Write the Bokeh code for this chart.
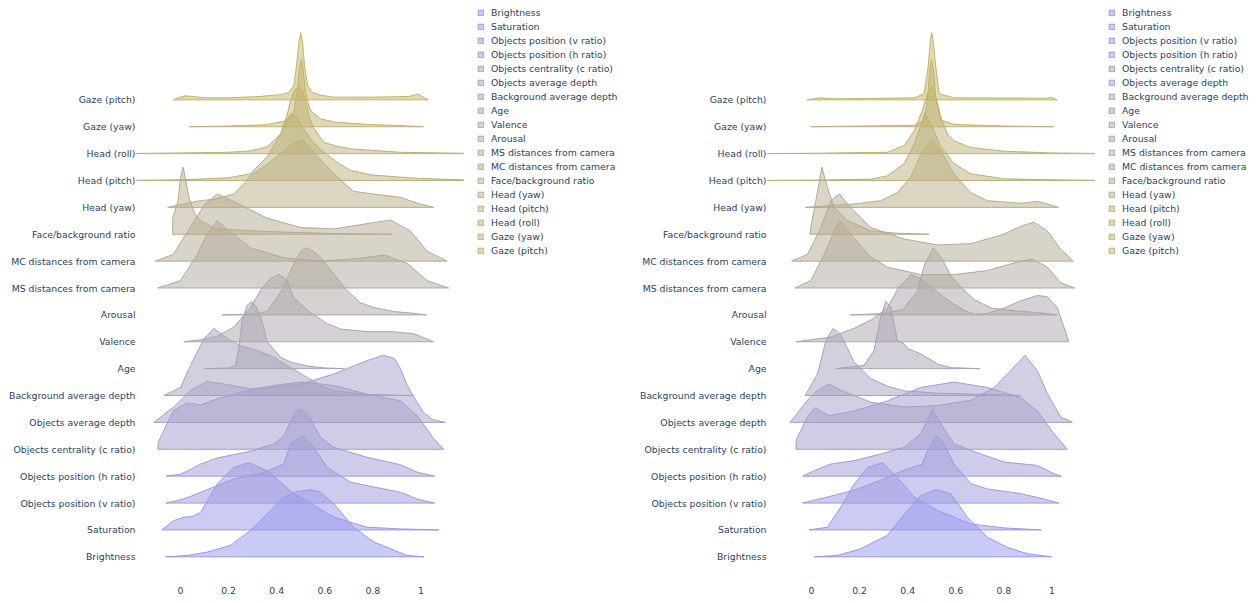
from bokeh.plotting import figure
from bokeh.models import Range1d, FixedTicker, Legend, LegendItem
from bokeh.layouts import row
from bokeh.embed import file_html
from bokeh.resources import INLINE

# ---------------- categories (bottom to top) ----------------
NAMES = ["Brightness", "Saturation", "Objects position (v ratio)", "Objects position (h ratio)",
         "Objects centrality (c ratio)", "Objects average depth", "Background average depth",
         "Age", "Valence", "Arousal", "MS distances from camera", "MC distances from camera",
         "Face/background ratio", "Head (yaw)", "Head (pitch)", "Head (roll)", "Gaze (yaw)", "Gaze (pitch)"]

X_TICKS = [0, 0.2, 0.4, 0.6, 0.8, 1]
X_TICK_LABELS = ["0", "0.2", "0.4", "0.6", "0.8", "1"]

# ---------------- left panel densities (x, relative density) ----------------
L_BRIGHTNESS = [(-0.062,0),(0.028,0.02),(0.111,0.07),(0.208,0.17),(0.291,0.39),(0.388,0.74),(0.43,0.88),(0.471,0.96),(0.54,1.0),(0.582,0.96),(0.637,0.79),(0.72,0.44),(0.804,0.22),(0.873,0.12),(0.943,0.02),(1.012,0)]
L_SATURATION = [(-0.078,0),(-0.028,0.14),(0.014,0.19),(0.05,0.2),(0.083,0.26),(0.152,0.68),(0.222,0.93),(0.284,1.0),(0.36,0.88),(0.471,0.54),(0.568,0.34),(0.637,0.19),(0.776,0.04),(0.915,0.015),(1.074,0)]
L_VRATIO = [(-0.06,0),(0.014,0.06),(0.139,0.24),(0.222,0.36),(0.333,0.44),(0.43,0.58),(0.457,0.88),(0.51,1.0),(0.554,0.83),(0.61,0.53),(0.707,0.31),(0.845,0.21),(0.915,0.16),(0.984,0.06),(1.057,0)]
L_HRATIO = [(-0.06,0),(0.0,0.03),(0.042,0.1),(0.083,0.18),(0.152,0.27),(0.291,0.37),(0.388,0.48),(0.43,0.6),(0.457,0.82),(0.48,0.96),(0.499,1.0),(0.52,0.95),(0.54,0.86),(0.582,0.58),(0.637,0.43),(0.776,0.28),(0.915,0.17),(0.984,0.06),(1.057,0)]
L_CENTRALITY = [(-0.094,0),(-0.093,0.1),(-0.06,0.35),(-0.028,0.58),(0.028,0.69),(0.083,0.66),(0.152,0.75),(0.25,0.85),(0.388,0.95),(0.5,1.0),(0.637,0.95),(0.776,0.82),(0.915,0.72),(0.984,0.5),(1.053,0.16),(1.095,0)]
L_OBJAVG = [(-0.111,0),(-0.028,0.23),(0.042,0.48),(0.111,0.61),(0.2,0.56),(0.291,0.5),(0.4,0.53),(0.5,0.57),(0.637,0.72),(0.776,0.92),(0.845,1.0),(0.89,0.95),(0.915,0.8),(0.943,0.55),(0.97,0.38),(1.01,0.15),(1.05,0.04),(1.102,0)]
L_BG = [(-0.069,0),(0.0,0.12),(0.042,0.45),(0.097,0.84),(0.139,1.0),(0.194,0.85),(0.25,0.74),(0.319,0.67),(0.388,0.57),(0.457,0.42),(0.527,0.27),(0.582,0.15),(0.637,0.07),(0.776,0.015),(0.97,0)]
L_AGE = [(0.1,0),(0.2,0.01),(0.229,0.05),(0.243,0.32),(0.256,0.72),(0.277,0.94),(0.295,1.0),(0.315,0.92),(0.333,0.77),(0.35,0.55),(0.36,0.4),(0.381,0.32),(0.416,0.17),(0.457,0.1),(0.527,0.04),(0.6,0.01),(0.682,0)]
L_VALENCE = [(0.014,0),(0.083,0.03),(0.15,0.08),(0.222,0.22),(0.29,0.5),(0.333,0.77),(0.37,0.93),(0.409,1.0),(0.44,0.93),(0.471,0.66),(0.527,0.47),(0.61,0.27),(0.665,0.19),(0.776,0.15),(0.88,0.15),(0.97,0.12),(1.053,0)]
L_AROUSAL = [(0.173,0),(0.3,0.01),(0.36,0.05),(0.42,0.36),(0.47,0.75),(0.5,0.95),(0.523,1.0),(0.55,0.95),(0.582,0.86),(0.637,0.61),(0.693,0.36),(0.748,0.18),(0.804,0.11),(0.887,0.05),(0.95,0.03),(1.023,0)]
L_MS = [(-0.094,0),(0.0,0.11),(0.07,0.5),(0.11,0.8),(0.152,1.0),(0.22,0.8),(0.29,0.6),(0.43,0.45),(0.57,0.4),(0.71,0.43),(0.85,0.49),(0.945,0.36),(1.025,0.11),(1.115,0)]
L_MC = [(-0.104,0),(-0.03,0.10),(0.04,0.5),(0.1,0.84),(0.155,1.0),(0.22,0.89),(0.36,0.64),(0.5,0.5),(0.64,0.48),(0.78,0.56),(0.873,0.61),(0.956,0.45),(1.025,0.15),(1.109,0)]
L_FACE = [(-0.033,0),(-0.032,0.25),(-0.01,0.5),(0.0,0.85),(0.011,1.0),(0.022,0.8),(0.035,0.55),(0.06,0.3),(0.083,0.2),(0.15,0.08),(0.36,0.04),(0.64,0.01),(0.88,0)]
L_HEADYAW = [(-0.053,0),(0.083,0.10),(0.139,0.12),(0.222,0.2),(0.27,0.38),(0.291,0.47),(0.36,0.64),(0.43,0.84),(0.47,0.96),(0.509,1.0),(0.554,0.82),(0.6,0.64),(0.64,0.5),(0.68,0.36),(0.72,0.24),(0.8,0.2),(0.915,0.15),(0.985,0.06),(1.053,0)]
L_HEADPITCH = [(-0.25,0),(0.0,0.01),(0.2,0.04),(0.29,0.1),(0.36,0.35),(0.416,0.69),(0.445,0.92),(0.462,1.0),(0.48,0.95),(0.5,0.84),(0.535,0.65),(0.57,0.5),(0.61,0.38),(0.66,0.25),(0.707,0.15),(0.8,0.08),(0.915,0.05),(1.0,0.03),(1.25,0)]
L_HEADROLL = [(-0.25,0),(0.0,0.01),(0.2,0.02),(0.29,0.04),(0.36,0.1),(0.416,0.29),(0.445,0.6),(0.457,0.78),(0.475,0.95),(0.496,1.0),(0.51,0.9),(0.52,0.78),(0.535,0.55),(0.553,0.39),(0.595,0.17),(0.65,0.11),(0.71,0.07),(0.915,0.02),(1.25,0)]
L_GAZEYAW = [(0.035,0),(0.2,0.01),(0.36,0.03),(0.44,0.09),(0.47,0.2),(0.485,0.5),(0.494,0.85),(0.502,1.0),(0.51,0.85),(0.52,0.5),(0.54,0.24),(0.582,0.12),(0.638,0.07),(0.776,0.035),(0.9,0.02),(1.01,0)]
L_GAZEPITCH = [(-0.03,0),(-0.01,0.03),(0.02,0.06),(0.05,0.05),(0.1,0.03),(0.2,0.03),(0.33,0.05),(0.42,0.08),(0.449,0.11),(0.471,0.21),(0.482,0.5),(0.492,0.85),(0.5,1.0),(0.508,0.85),(0.516,0.5),(0.529,0.21),(0.549,0.11),(0.58,0.07),(0.64,0.04),(0.8,0.04),(0.95,0.05),(0.987,0.085),(1.0,0.06),(1.03,0)]

# ---------------- right panel densities ----------------
R_BRIGHTNESS = [(0.011,0),(0.108,0.02),(0.205,0.12),(0.316,0.32),(0.399,0.69),(0.454,0.91),(0.517,1.0),(0.579,0.94),(0.648,0.59),(0.731,0.29),(0.815,0.14),(0.898,0.045),(0.999,0)]
R_SATURATION = [(-0.01,0),(0.066,0.04),(0.122,0.34),(0.177,0.68),(0.233,0.93),(0.295,1.0),(0.357,0.78),(0.427,0.49),(0.524,0.29),(0.662,0.09),(0.8,0.03),(0.956,0)]
R_VRATIO = [(-0.037,0),(0.066,0.09),(0.177,0.19),(0.288,0.34),(0.385,0.49),(0.461,0.58),(0.482,0.78),(0.521,1.0),(0.551,0.88),(0.593,0.58),(0.662,0.29),(0.731,0.21),(0.87,0.14),(0.967,0.06),(1.029,0)]
R_HRATIO = [(-0.037,0),(0.011,0.08),(0.08,0.18),(0.177,0.23),(0.288,0.33),(0.385,0.43),(0.454,0.63),(0.503,1.0),(0.538,0.78),(0.593,0.48),(0.704,0.33),(0.8,0.21),(0.939,0.16),(1.009,0.035),(1.039,0)]
R_CENTRALITY = [(-0.065,0),(-0.063,0.15),(-0.017,0.48),(0.014,0.62),(0.039,0.57),(0.073,0.5),(0.177,0.57),(0.316,0.72),(0.454,0.92),(0.593,1.0),(0.731,0.92),(0.87,0.77),(0.939,0.57),(1.009,0.23),(1.064,0)]
R_OBJAVG = [(-0.089,0),(-0.017,0.33),(0.025,0.48),(0.073,0.57),(0.122,0.48),(0.247,0.3),(0.385,0.23),(0.524,0.25),(0.662,0.33),(0.76,0.52),(0.828,0.77),(0.888,1.0),(0.939,0.77),(0.981,0.43),(1.036,0.08),(1.085,0)]
R_BG = [(-0.026,0),(0.025,0.32),(0.06,0.82),(0.09,1.0),(0.122,0.9),(0.15,0.7),(0.177,0.5),(0.247,0.25),(0.316,0.14),(0.385,0.07),(0.524,0.035),(0.731,0.015),(0.87,0)]
R_AGE = [(0.101,0),(0.219,0.05),(0.26,0.27),(0.288,0.77),(0.309,1.0),(0.33,0.92),(0.357,0.42),(0.385,0.37),(0.4,0.3),(0.454,0.22),(0.524,0.07),(0.579,0.015),(0.7,0)]
R_VALENCE = [(-0.065,0),(0.08,0.07),(0.177,0.2),(0.25,0.33),(0.316,0.5),(0.357,0.78),(0.413,1.0),(0.454,0.94),(0.524,0.74),(0.579,0.59),(0.635,0.47),(0.676,0.41),(0.73,0.42),(0.8,0.5),(0.87,0.61),(0.94,0.69),(0.98,0.67),(1.022,0.51),(1.05,0.22),(1.07,0)]
R_AROUSAL = [(0.161,0),(0.3,0.02),(0.38,0.08),(0.44,0.35),(0.47,0.75),(0.506,1.0),(0.54,0.85),(0.58,0.58),(0.63,0.38),(0.68,0.22),(0.75,0.1),(0.85,0.06),(0.95,0.03),(1.022,0)]
R_MS = [(-0.069,0),(-0.003,0.11),(0.053,0.5),(0.094,0.85),(0.118,1.0),(0.163,0.8),(0.247,0.46),(0.316,0.31),(0.454,0.2),(0.593,0.2),(0.731,0.26),(0.85,0.38),(0.918,0.43),(0.981,0.31),(1.036,0.08),(1.094,0)]
R_MC = [(-0.083,0),(-0.017,0.1),(0.039,0.5),(0.08,0.9),(0.115,1.0),(0.163,0.8),(0.247,0.5),(0.385,0.33),(0.524,0.24),(0.662,0.26),(0.8,0.4),(0.87,0.52),(0.925,0.58),(0.981,0.45),(1.036,0.18),(1.089,0)]
R_FACE = [(-0.007,0),(-0.005,0.06),(0.018,0.5),(0.043,1.0),(0.066,0.7),(0.094,0.4),(0.15,0.2),(0.247,0.05),(0.357,0.015),(0.489,0)]
R_HEADYAW = [(-0.026,0),(0.177,0.05),(0.288,0.1),(0.357,0.22),(0.413,0.45),(0.461,0.84),(0.503,1.0),(0.538,0.84),(0.593,0.5),(0.662,0.22),(0.731,0.1),(0.87,0.06),(0.939,0.09),(0.981,0.05),(1.027,0)]
R_HEADPITCH = [(-0.25,0),(0.0,0.005),(0.247,0.02),(0.316,0.07),(0.385,0.25),(0.427,0.54),(0.472,1.0),(0.503,0.79),(0.538,0.5),(0.593,0.25),(0.662,0.1),(0.8,0.025),(1.0,0.01),(1.25,0)]
R_HEADROLL = [(-0.25,0),(0.0,0.005),(0.316,0.02),(0.385,0.12),(0.427,0.34),(0.461,0.64),(0.482,0.89),(0.5,1.0),(0.517,0.84),(0.538,0.54),(0.565,0.29),(0.593,0.19),(0.662,0.09),(0.8,0.035),(1.0,0.01),(1.25,0)]
R_GAZEYAW = [(-0.003,0),(0.2,0.01),(0.427,0.02),(0.468,0.09),(0.482,0.39),(0.492,0.85),(0.499,1.0),(0.507,0.85),(0.517,0.44),(0.538,0.1),(0.593,0.035),(0.8,0.01),(1.009,0)]
R_GAZEPITCH = [(-0.019,0),(0.039,0.03),(0.1,0.015),(0.427,0.03),(0.468,0.09),(0.485,0.49),(0.494,0.88),(0.5,1.0),(0.506,0.88),(0.517,0.49),(0.531,0.09),(0.593,0.03),(0.98,0.025),(0.995,0.04),(1.022,0)]

LEFT = [L_BRIGHTNESS, L_SATURATION, L_VRATIO, L_HRATIO, L_CENTRALITY, L_OBJAVG, L_BG, L_AGE,
        L_VALENCE, L_AROUSAL, L_MS, L_MC, L_FACE, L_HEADYAW, L_HEADPITCH, L_HEADROLL, L_GAZEYAW, L_GAZEPITCH]
RIGHT = [R_BRIGHTNESS, R_SATURATION, R_VRATIO, R_HRATIO, R_CENTRALITY, R_OBJAVG, R_BG, R_AGE,
         R_VALENCE, R_AROUSAL, R_MS, R_MC, R_FACE, R_HEADYAW, R_HEADPITCH, R_HEADROLL, R_GAZEYAW, R_GAZEPITCH]

# ---------------- style ----------------
C_START = (150, 150, 240)
C_END = (195, 180, 100)
RIDGE_H = 2.5
FONT = "DejaVu Sans"
FSIZE = "9.3px"
TXT = "#2a3f5f"
FIG_H = 603
FRAME_TOP = 6
FRAME_BOTTOM_PAD = 25
LEG_ROW = 13
LEG_SPACING = 1
LEG_TOP = 4


def color(i, n):
    t = i / (n - 1)
    r = round(C_START[0] + (C_END[0] - C_START[0]) * t)
    g = round(C_START[1] + (C_END[1] - C_START[1]) * t)
    b = round(C_START[2] + (C_END[2] - C_START[2]) * t)
    return "#%02x%02x%02x" % (r, g, b)


def ridge_xy(i, pts):
    xs = [x for x, d in pts] + [pts[-1][0], pts[0][0]]
    ys = [i + RIDGE_H * d for x, d in pts] + [i, i]
    return xs, ys


def make_panel(curves):
    p = figure(width=464, height=FIG_H, output_backend="svg", toolbar_location=None,
               x_range=Range1d(-0.183, 1.181), y_range=Range1d(-0.807, 20.473),
               min_border_left=136, min_border_right=0, min_border_top=FRAME_TOP,
               min_border_bottom=FRAME_BOTTOM_PAD)
    p.outline_line_color = None
    p.grid.visible = False
    n = len(curves)
    for i, pts in enumerate(curves):
        xs, ys = ridge_xy(i, pts)
        c = color(i, n)
        p.patch(xs, ys, fill_color=c, fill_alpha=0.5, line_color=c, line_width=1)

    for ax in (p.xaxis[0], p.yaxis[0]):
        ax.axis_line_color = None
        ax.major_tick_line_color = None
        ax.minor_tick_line_color = None
        ax.major_tick_out = 0
        ax.major_tick_in = 0
        ax.minor_tick_out = 0
        ax.minor_tick_in = 0
        ax.major_label_text_font = FONT
        ax.major_label_text_font_size = FSIZE
        ax.major_label_text_color = TXT
    p.xaxis.ticker = FixedTicker(ticks=X_TICKS)
    p.xaxis.major_label_overrides = {t: s for t, s in zip(X_TICKS, X_TICK_LABELS)}
    p.xaxis.major_label_standoff = 8
    p.yaxis.ticker = FixedTicker(ticks=list(range(len(NAMES))))
    p.yaxis.major_label_overrides = {i: s for i, s in enumerate(NAMES)}
    p.yaxis.major_label_standoff = 1
    return p


def make_legend(width, curves):
    # legend-only figure: the same ridges are drawn here but the view range keeps them out of sight
    lg = figure(width=width, height=FIG_H, output_backend="svg", toolbar_location=None,
                x_range=Range1d(0, 1), y_range=Range1d(100, 101), x_axis_type=None, y_axis_type=None,
                min_border_left=13, min_border_right=0, min_border_top=LEG_TOP, min_border_bottom=0)
    lg.outline_line_color = None
    lg.grid.visible = False
    n = len(curves)
    items = []
    for i, pts in enumerate(curves):
        xs, ys = ridge_xy(i, pts)
        c = color(i, n)
        r = lg.patch(xs, ys, fill_color=c, fill_alpha=0.5, line_color=c, line_width=1)
        items.append(LegendItem(label=NAMES[i], renderers=[r]))
    leg = Legend(items=items, location="top_left", glyph_width=7, glyph_height=7,
                 label_standoff=7, label_height=LEG_ROW, spacing=LEG_SPACING, padding=0, margin=0,
                 border_line_color=None, background_fill_alpha=0,
                 label_text_font=FONT, label_text_font_size=FSIZE, label_text_color=TXT)
    lg.add_layout(leg, "center")
    return lg


p1 = make_panel(LEFT)
g1 = make_legend(167, LEFT)
p2 = make_panel(RIGHT)
g2 = make_legend(161, RIGHT)
layout = row(p1, g1, p2, g2)

open("out.html", "w").write(file_html(layout, INLINE))
